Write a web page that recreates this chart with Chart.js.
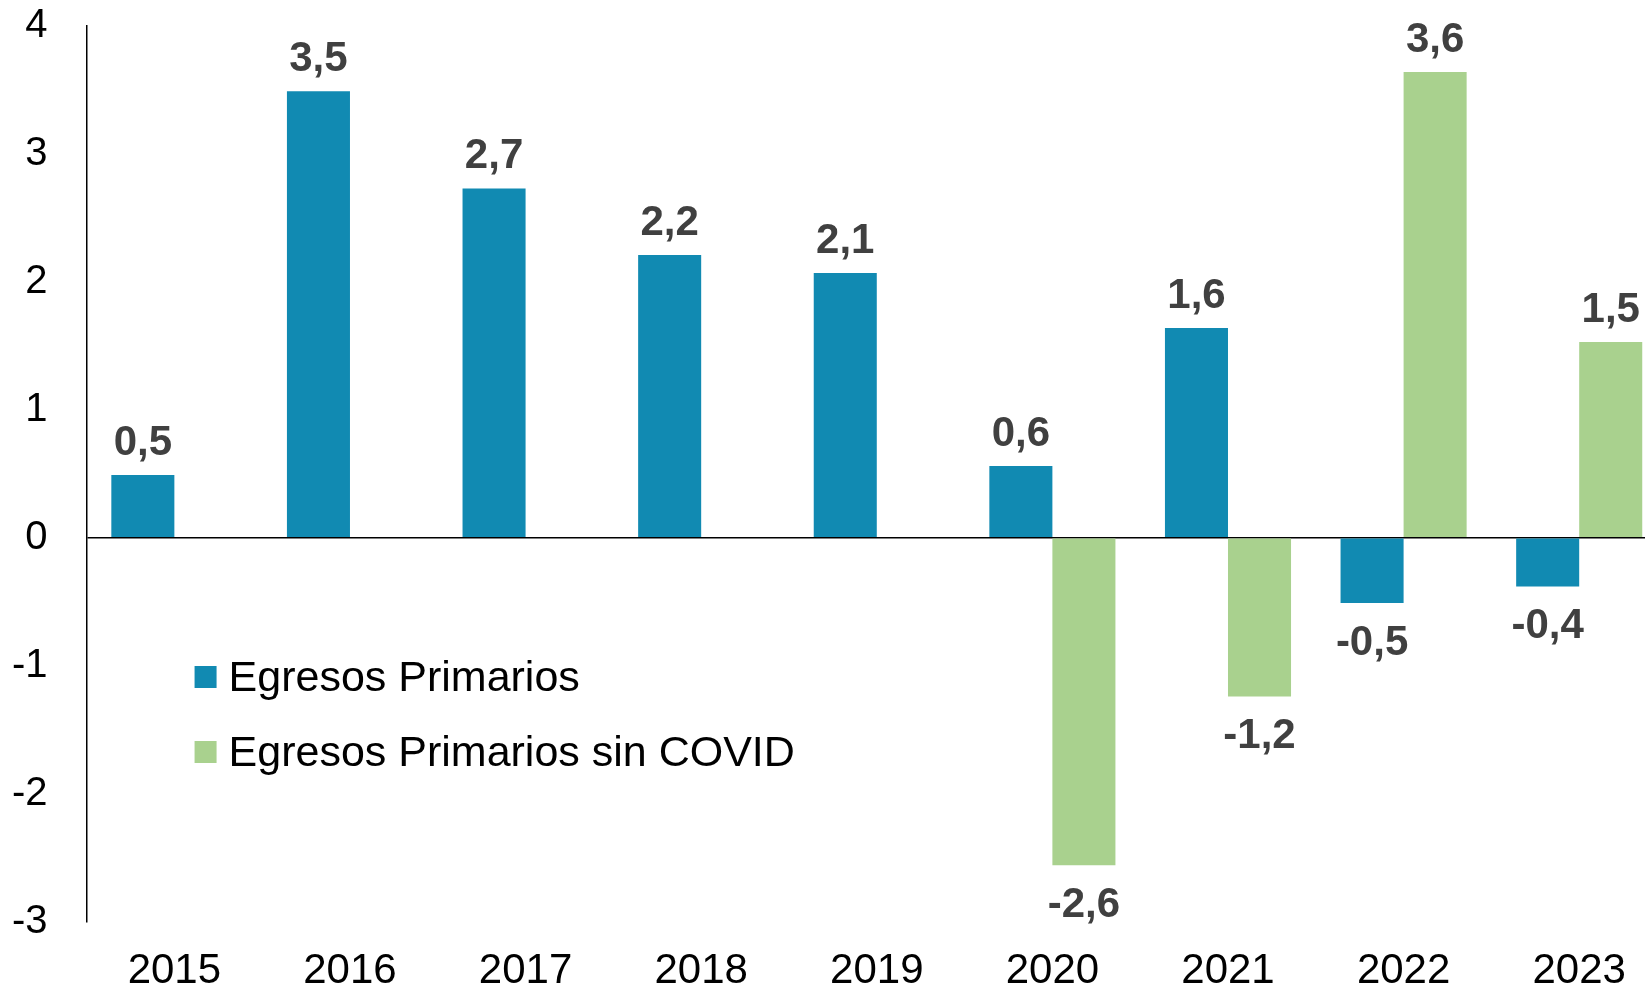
<!DOCTYPE html>
<html>
<head>
<meta charset="utf-8">
<script src="https://cdn.jsdelivr.net/npm/chart.js@4.4.0/dist/chart.umd.min.js"></script>
<style>
  html, body { margin: 0; padding: 0; background: #fff; overflow: hidden; }
  #wrap { width: 1668px; height: 991px; }
</style>
</head>
<body>
<div id="wrap"><canvas id="egresosChart" width="1668" height="991"></canvas></div>
<script>
// datos
const years = ['2015', '2016', '2017', '2018', '2019', '2020', '2021', '2022', '2023'];
const egresosPrimarios = [0.49, 3.49, 2.73, 2.21, 2.07, 0.56, 1.64, -0.51, -0.38];
const egresosSinCovid = [null, null, null, null, null, -2.56, -1.24, 3.64, 1.53];
const yTicks = [-3, -2, -1, 0, 1, 2, 3, 4];

const azul = '#118AB2';
const verde = '#A9D18E';
const fontFamily = "'Liberation Sans', Arial, sans-serif";

Chart.defaults.font.family = fontFamily;
Chart.defaults.color = '#000';

// etiquetas de valor sobre / bajo las barras
const valueLabels = {
    id: 'valueLabels',
    afterDatasetsDraw(chart) {
        const ctx = chart.ctx;
        ctx.save();
        ctx.font = 'bold 42px ' + fontFamily;
        ctx.fillStyle = '#404040';
        ctx.textAlign = 'center';
        ctx.textBaseline = 'alphabetic';
        chart.data.datasets.forEach((ds, i) => {
            const meta = chart.getDatasetMeta(i);
            meta.data.forEach((bar, j) => {
                const v = ds.data[j];
                if (v === null || v === undefined) return;
                const txt = v.toFixed(1).replace('.', ',');
                if (v >= 0) {
                    ctx.fillText(txt, bar.x, bar.y - 20);
                } else {
                    ctx.fillText(txt, bar.x, bar.y + 52);
                }
            });
        });
        ctx.restore();
    }
};

// leyenda dentro del área del gráfico
const innerLegend = {
    id: 'innerLegend',
    afterDraw(chart) {
        const ctx = chart.ctx;
        const area = chart.chartArea;
        const x0 = area.left + 108;
        const y0 = area.top + 651;
        ctx.save();
        ctx.font = '43px ' + fontFamily;
        ctx.textBaseline = 'middle';
        ctx.textAlign = 'left';
        chart.data.datasets.forEach((ds, i) => {
            const y = y0 + i * 75;
            ctx.fillStyle = ds.backgroundColor;
            ctx.fillRect(x0, y - 11, 22, 22);
            ctx.fillStyle = '#000';
            ctx.fillText(ds.label, x0 + 34, y + 2);
        });
        ctx.restore();
    }
};

const ctx = document.getElementById('egresosChart').getContext('2d');
const egresosChart = new Chart(ctx, {
    type: 'bar',
    data: {
        labels: years,
        datasets: [{
            label: 'Egresos Primarios',
            data: egresosPrimarios,
            backgroundColor: azul,
        }, {
            label: 'Egresos Primarios sin COVID',
            data: egresosSinCovid,
            backgroundColor: verde,
        }]
    },
    options: {
        responsive: false,
        animation: false,
        categoryPercentage: 0.718,
        barPercentage: 1,
        layout: {
            padding: { top: 0, left: -27, right: 1, bottom: -31 }
        },
        scales: {
            x: {
                grid: { display: false, drawTicks: false },
                border: { display: false },
                ticks: {
                    font: { size: 42 },
                    color: '#000',
                    padding: 25,
                    maxRotation: 0,
                    autoSkip: false
                }
            },
            y: {
                min: yTicks[0],
                max: yTicks[yTicks.length - 1],
                afterBuildTicks(axis) {
                    axis.ticks = yTicks.map(v => ({ value: v }));
                },
                afterFit(axis) {
                    axis.paddingTop = 26;
                    axis.paddingBottom = 0;
                },
                grid: {
                    drawTicks: false,
                    lineWidth: 1.5,
                    color: c => (c.tick && c.tick.value === 0 ? '#000' : 'rgba(0,0,0,0)')
                },
                border: { display: true, color: '#000', width: 1.5 },
                ticks: {
                    font: { size: 40 },
                    color: '#000',
                    padding: 39,
                    callback: v => String(v)
                }
            }
        },
        plugins: {
            legend: { display: false },
            tooltip: { enabled: false }
        }
    },
    plugins: [valueLabels, innerLegend]
});
</script>
</body>
</html>
